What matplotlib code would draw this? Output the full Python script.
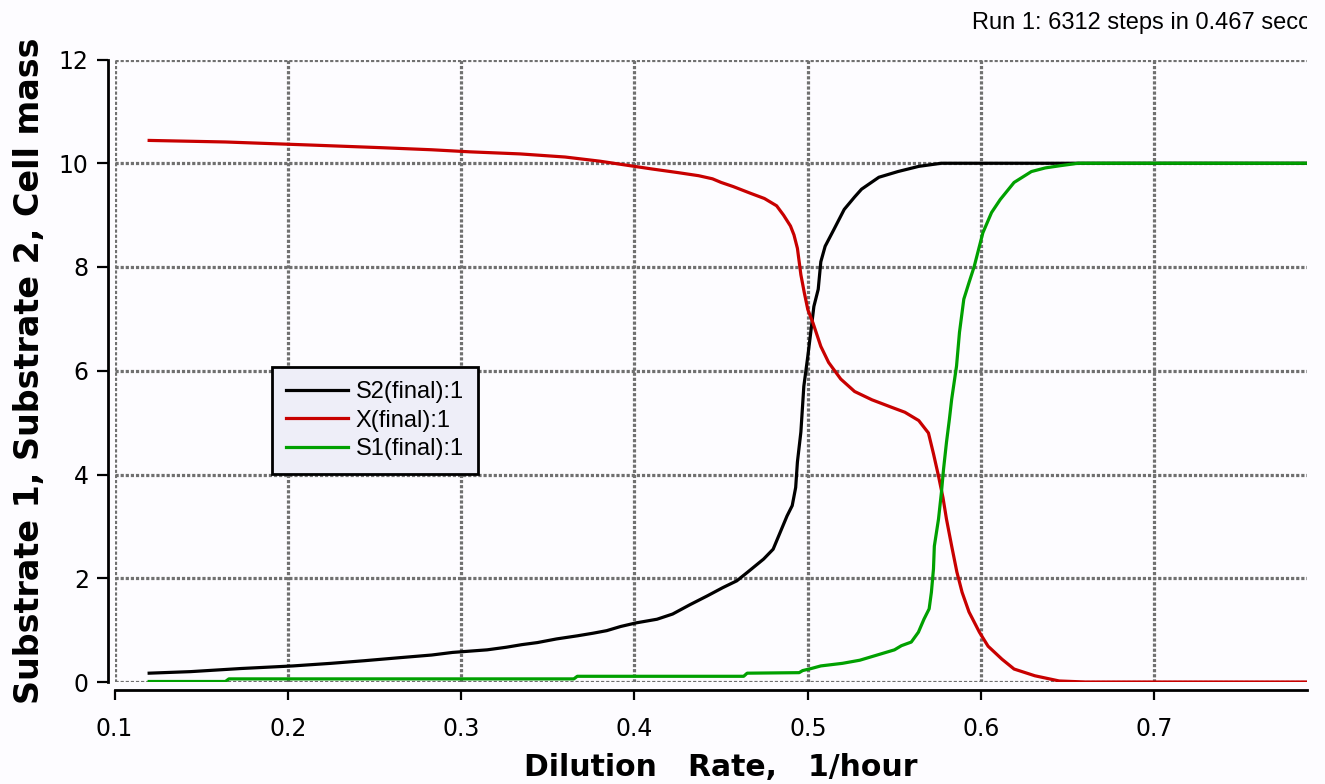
import matplotlib
matplotlib.use("Agg")
import matplotlib.pyplot as plt
from matplotlib.transforms import Bbox, TransformedBbox

# ---- data ----
s2_D = [0.12, 0.144, 0.173, 0.203, 0.225, 0.244, 0.265, 0.283, 0.295, 0.315, 0.326, 0.335,
        0.344, 0.355, 0.367, 0.376, 0.384, 0.392, 0.401, 0.413, 0.422, 0.432, 0.442, 0.451,
        0.459, 0.465, 0.4745, 0.480, 0.484, 0.488, 0.491, 0.493, 0.494, 0.496, 0.4977, 0.500,
        0.5017, 0.5035, 0.506, 0.5075, 0.510, 0.515, 0.521, 0.527, 0.531, 0.541, 0.552,
        0.564, 0.577, 0.788]
s2_val = [0.17, 0.20, 0.26, 0.31, 0.36, 0.41, 0.47, 0.52, 0.57, 0.62, 0.67, 0.72,
          0.76, 0.83, 0.89, 0.94, 0.99, 1.07, 1.14, 1.21, 1.31, 1.49, 1.66, 1.82,
          1.95, 2.11, 2.37, 2.56, 2.88, 3.20, 3.40, 3.75, 4.24, 4.82, 5.70, 6.28,
          6.74, 7.24, 7.57, 8.10, 8.40, 8.72, 9.11, 9.35, 9.50, 9.73, 9.84,
          9.94, 10.0, 10.0]

x_D = [0.12, 0.164, 0.214, 0.254, 0.283, 0.305, 0.334, 0.36, 0.38, 0.396, 0.41, 0.425,
       0.437, 0.445, 0.450, 0.457, 0.467, 0.475, 0.482, 0.486, 0.490, 0.492, 0.494, 0.496,
       0.498, 0.500, 0.503, 0.5075, 0.512, 0.519, 0.527, 0.537, 0.548, 0.556, 0.564, 0.5696,
       0.5725, 0.5754, 0.578, 0.580, 0.583, 0.586, 0.589, 0.593, 0.599, 0.604, 0.612, 0.619,
       0.631, 0.645, 0.66, 0.788]
x_val = [10.44, 10.41, 10.35, 10.30, 10.26, 10.22, 10.18, 10.12, 10.04, 9.96, 9.89, 9.82,
         9.76, 9.70, 9.63, 9.55, 9.42, 9.32, 9.18, 9.00, 8.79, 8.62, 8.36, 7.85,
         7.50, 7.18, 6.92, 6.47, 6.16, 5.84, 5.60, 5.44, 5.30, 5.20, 5.04, 4.80,
         4.40, 3.97, 3.55, 3.14, 2.62, 2.12, 1.73, 1.35, 0.96, 0.69, 0.44, 0.25,
         0.12, 0.02, 0.0, 0.0]

s1_D = [0.12, 0.164, 0.166, 0.365, 0.367, 0.463, 0.465, 0.495, 0.497, 0.502, 0.5075, 0.52,
        0.53, 0.54, 0.55, 0.554, 0.5597, 0.5638, 0.567, 0.570, 0.5713, 0.5725, 0.573, 0.5754,
        0.5771, 0.5783, 0.580, 0.5817, 0.583, 0.5858, 0.5875, 0.590, 0.593, 0.596, 0.599,
        0.601, 0.606, 0.611, 0.619, 0.629, 0.637, 0.645, 0.656, 0.788]
s1_val = [0.01, 0.01, 0.06, 0.06, 0.11, 0.11, 0.17, 0.18, 0.22, 0.26, 0.31, 0.36,
          0.42, 0.52, 0.62, 0.70, 0.77, 0.96, 1.21, 1.41, 1.73, 2.18, 2.62, 3.14,
          3.66, 4.10, 4.62, 5.07, 5.45, 6.09, 6.74, 7.38, 7.70, 8.01, 8.40,
          8.66, 9.05, 9.30, 9.63, 9.84, 9.91, 9.95, 10.0, 10.0]

x_ticks = [0.1, 0.2, 0.3, 0.4, 0.5, 0.6, 0.7]
x_tick_labels = ["0.1", "0.2", "0.3", "0.4", "0.5", "0.6", "0.7"]
y_ticks = [0, 2, 4, 6, 8, 10, 12]
series_labels = ["S2(final):1", "X(final):1", "S1(final):1"]
run_text = "Run 1: 6312 steps in 0.467 seconds"

BG = "#fdfcff"
fig = plt.figure(figsize=(13.25, 7.84), dpi=100, facecolor=BG)
ax = fig.add_axes([114.5 / 1325, 1 - 682 / 784, (1307 - 114.5) / 1325, (682 - 59.5) / 784])
ax.set_facecolor(BG)

l1, = ax.plot(s2_D, s2_val, color="black", lw=2.3, label=series_labels[0])
l2, = ax.plot(x_D, x_val, color="#c80000", lw=2.3, label=series_labels[1])
l3, = ax.plot(s1_D, s1_val, color="#00a000", lw=2.3, label=series_labels[2])

ax.set_xlim(0.1, 0.788)
ax.set_ylim(0, 12)
ax.set_xticks(x_ticks)
ax.set_xticklabels(x_tick_labels)
ax.set_yticks(y_ticks)

ax.set_axisbelow(True)
ax.grid(True, color="#707070", lw=2.3, linestyle=(0, (1.0, 0.6)))
for gl in ax.get_xgridlines() + ax.get_ygridlines():
    gl.set_clip_on(False)

for side in ["top", "right"]:
    ax.spines[side].set_visible(False)
ax.spines["left"].set_position(("outward", 5))
ax.spines["bottom"].set_position(("outward", 5.5))
ax.spines["left"].set_linewidth(2.0)
ax.spines["bottom"].set_linewidth(2.0)

ax.tick_params(axis="x", length=7, width=1.6, pad=13, labelsize=17)
ax.tick_params(axis="y", length=8, width=1.6, pad=5.5, labelsize=17)
for lab in ax.get_xticklabels() + ax.get_yticklabels():
    lab.set_family("DejaVu Sans")

ax.set_xlabel("Dilution   Rate,   1/hour", fontsize=21.5, fontweight="bold", family="DejaVu Sans")
ax.set_ylabel("Substrate 1, Substrate 2, Cell mass", fontsize=24, fontweight="bold", family="DejaVu Sans")
ax.xaxis.set_label_coords((721 - 114.5) / 1192.5, (682 - 753) / 622.5)
ax.yaxis.set_label_coords((46 - 114.5) / 1192.5, 0.5)

leg = ax.legend(handles=[l1, l2, l3], loc="upper left",
                bbox_to_anchor=((272 - 114.5) / 1192.5, (682 - 367) / 622.5),
                borderaxespad=0, fancybox=False, framealpha=1,
                facecolor="#eeeef8", edgecolor="black",
                prop={"family": "Liberation Sans", "size": 17},
                handlelength=2.6, handletextpad=0.35, labelspacing=0.27, borderpad=0.6)
leg.get_frame().set_linewidth(2.0)

t = fig.text(972 / 1325, 1 - 29.3 / 784, run_text, fontsize=17, family="Liberation Sans",
             ha="left", va="baseline")
t.set_clip_box(TransformedBbox(Bbox([[0, 0], [1307 / 1325, 1]]), fig.transFigure))
t.set_clip_on(True)

fig.savefig("out.png", dpi=100, facecolor=BG)
